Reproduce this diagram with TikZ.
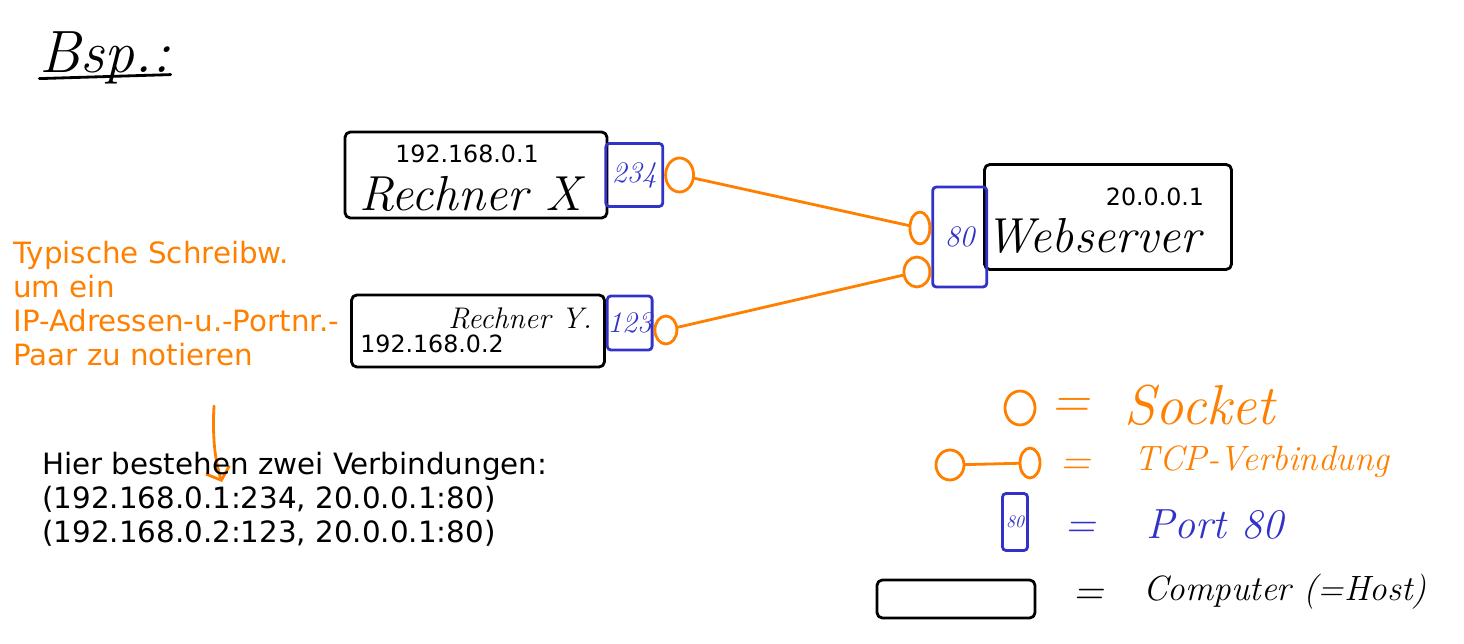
\documentclass[tikz,border=0pt]{standalone}
\usepackage{fontspec}
\usepackage{tikz}
\usetikzlibrary{arrows.meta,shapes,positioning}
\newfontfamily\typed{DejaVu Sans}
\newcommand\hand{\rmfamily\itshape}
\definecolor{penorange}{HTML}{FF8000}
\definecolor{penblue}{HTML}{3232C8}

\begin{document}
\begin{tikzpicture}[
        x=0.02cm, y=-0.02cm,
        pen/.style={line width=1.6pt, line cap=round, line join=round},
        host/.style={draw, pen, rounded corners=3pt, inner sep=0pt},
        port/.style={draw=penblue, pen, text=penblue, rounded corners=2pt, inner sep=0pt, font=\hand\fontsize{17}{17}\selectfont},
        socket/.style={draw=penorange, pen, ellipse, inner sep=0pt},
        conn/.style={draw=penorange, pen},
        ipaddr/.style={inner sep=0pt, font=\typed\fontsize{13.5}{16}\selectfont},
        hostname/.style={inner sep=0pt, font=\hand\fontsize{28}{30}\selectfont},
        note/.style={align=left, inner sep=0pt, font=\typed\fontsize{16.7}{19.4}\selectfont},
        legeq/.style={inner sep=0pt, font=\hand\fontsize{24}{24}\selectfont},
        legtext/.style={inner sep=0pt, font=\hand\fontsize{20}{22}\selectfont}
    ]
    \useasboundingbox (0,0) rectangle (1464,644);

    % Heading
    \node[hostname, font=\hand\fontsize{34}{34}\selectfont] (bsp) at (105,58) {Bsp.:};
    \draw[pen] ([yshift=-0.12cm]bsp.base west) -- ([yshift=-0.04cm]bsp.base east);

    % Nodes
    \node[host, minimum width=5.24cm, minimum height=1.72cm] (hostX) at (476,175) {};
    \node[ipaddr] (ipX) at (467,154) {192.168.0.1};
    \node[hostname] (nameX) at (470,194) {Rechner X};
    \node[port, minimum width=1.14cm, minimum height=1.26cm, right=-0.08cm of hostX] (portX) {234};
    \node[socket, minimum width=0.56cm, minimum height=0.68cm, right=0pt of portX] (sockX) {};

    \node[host, minimum width=5.06cm, minimum height=1.44cm] (hostY) at (478,331) {};
    \node[hostname, font=\hand\fontsize{17}{17}\selectfont] (nameY) at (520,318) {Rechner Y.};
    \node[ipaddr] (ipY) at (432,344) {192.168.0.2};
    \node[port, minimum width=0.86cm, minimum height=1.08cm, right=0pt of hostY, yshift=0.16cm] (portY) {123};
    \node[socket, minimum width=0.44cm, minimum height=0.56cm, right=0pt of portY, yshift=-0.14cm] (sockY) {};

    \node[host, minimum width=4.94cm, minimum height=2.1cm] (web) at (1108,217) {};
    \node[ipaddr] (ipW) at (1155,197) {20.0.0.1};
    \node[hostname] (nameW) at (1093,236) {Webserver};
    \node[port, minimum width=1.08cm, minimum height=2cm, left=-0.1cm of web, yshift=-0.4cm] (portW) {80};
    \node[socket, minimum width=0.4cm, minimum height=0.64cm, left=0pt of portW, yshift=0.18cm] (sockW1) {};
    \node[socket, minimum width=0.52cm, minimum height=0.6cm, left=0pt of portW, yshift=-0.7cm] (sockW2) {};

    % Edges
    \draw[conn] (sockX) -- (sockW1);
    \draw[conn] (sockY) -- (sockW2);

    % Notes
    \node[note, text=penorange, anchor=north west] (note) at (13,241)
        {Typische Schreibw.\\um ein\\IP-Adressen-u.-Portnr.-\\Paar zu notieren};
    \coordinate (arrS) at (214,406);
    \coordinate (arrE) at (222,482);
    \draw[conn, -{Straight Barb[length=0.22cm, width=0.5cm]}] (arrS) .. controls (212,440) and (216,465) .. (arrE);
    \node[note, anchor=north west] (conns) at (42,452)
        {Hier bestehen zwei Verbindungen:\\(192.168.0.1:234, 20.0.0.1:80)\\(192.168.0.2:123, 20.0.0.1:80)};

    % Legend
    \node[socket, minimum width=0.6cm, minimum height=0.68cm] (legSock) at (1020,408) {};
    \node[legeq, text=penorange, font=\hand\fontsize{30}{30}\selectfont] (eqSock) at (1070,408) {=};
    \node[legtext, text=penorange, font=\hand\fontsize{32}{32}\selectfont] (txtSock) at (1200,405) {Socket};

    \node[socket, minimum width=0.56cm, minimum height=0.6cm] (legA) at (950,465) {};
    \node[socket, minimum width=0.4cm, minimum height=0.6cm] (legB) at (1030,463) {};
    \draw[conn] (legA) -- (legB);
    \node[legeq, text=penorange] (eqTcp) at (1075,467) {=};
    \node[legtext, text=penorange] (txtTcp) at (1262,462) {TCP-Verbindung};

    \node[port, minimum width=0.5cm, minimum height=1.14cm, font=\hand\fontsize{10}{10}\selectfont] (legPort) at (1015,522) {80};
    \node[legeq, text=penblue] (eqPort) at (1080,530) {=};
    \node[legtext, text=penblue, font=\hand\fontsize{24}{24}\selectfont] (txtPort) at (1215,525) {Port 80};

    \node[host, minimum width=3.16cm, minimum height=0.76cm] (legHost) at (956,599) {};
    \node[legeq] (eqHost) at (1088,597) {=};
    \node[legtext] (txtHost) at (1285,592) {Computer (=Host)};
\end{tikzpicture}
\end{document}
